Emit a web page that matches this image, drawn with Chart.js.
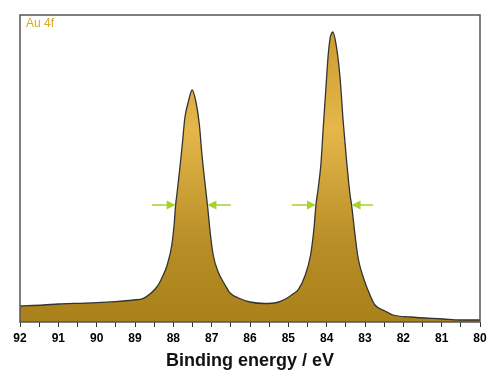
<!DOCTYPE html>
<html>
<head>
<meta charset="utf-8">
<script src="https://cdn.jsdelivr.net/npm/chart.js@4.4.0/dist/chart.umd.min.js"></script>
<style>
    html, body { margin: 0; padding: 0; background: #fff; }
</style>
</head>
<body>
<canvas id="xpsChart" width="500" height="376"></canvas>
<script>
// Au 4f XPS spectrum (arbitrary intensity units)
const energies = [92.0, 91.39, 91.0, 90.52, 90.0, 89.52, 89.04, 88.78, 88.43, 88.35,
    88.30, 88.16, 88.04, 87.98, 87.94, 87.90, 87.83, 87.76, 87.70, 87.61,
    87.51, 87.41, 87.32, 87.26, 87.19, 87.11, 87.04, 86.96, 86.83, 86.65,
    86.52, 86.30, 86.0, 85.61, 85.30, 85.10, 84.96, 84.91, 84.74, 84.57,
    84.42, 84.33, 84.28, 84.22, 84.15, 84.09, 84.02, 83.96, 83.91, 83.89,
    83.84, 83.74, 83.65, 83.57, 83.48, 83.39, 83.35, 83.26, 83.18, 83.04,
    82.87, 82.74, 82.48, 82.27, 81.83, 80.96, 80.52, 80.0];
const intensities = [16, 17, 18, 18.7, 19.3, 20.3, 22, 23.7, 35, 40,
    44, 57, 77, 97, 117, 130, 154, 180, 204, 220,
    232, 220, 197, 170, 144, 117, 90, 67, 50, 37,
    29, 24, 20, 18.5, 19.5, 22.5, 25.7, 27.3, 32.3, 45.7,
    67, 94, 117, 134, 158, 194, 234, 267, 284, 287,
    290, 274, 244, 201, 161, 127, 117, 87, 64, 44,
    27, 17, 11, 7, 5, 3, 2, 2];

// x axis ticks every 0.5 eV, labels only on whole numbers
const tickLabels = [92, 91, 90, 89, 88, 87, 86, 85, 84, 83, 82, 81, 80];

// FWHM arrows (start energy -> tip energy) at half height
const arrowLevel = 117;
const arrowFrom = [88.56, 86.50, 84.91, 82.79];
const arrowTo = [87.94, 87.11, 84.28, 83.35];

const panelLabel = 'Au 4f';

// Draws the FWHM arrows, the frame and the panel label
const xpsDecor = {
    id: 'xpsDecor',
    afterDatasetsDraw(chart) {
        const { ctx, chartArea: a, scales: { x, y } } = chart;
        ctx.save();

        ctx.strokeStyle = '#a6d12e';
        ctx.fillStyle = '#a6d12e';
        ctx.lineWidth = 1.5;
        const yy = y.getPixelForValue(arrowLevel);
        arrowFrom.forEach((e0, i) => {
            const x0 = x.getPixelForValue(e0);
            const x1 = x.getPixelForValue(arrowTo[i]);
            const dir = Math.sign(x1 - x0);
            ctx.beginPath();
            ctx.moveTo(x0, yy);
            ctx.lineTo(x1 - dir * 6, yy);
            ctx.stroke();
            ctx.beginPath();
            ctx.moveTo(x1, yy);
            ctx.lineTo(x1 - dir * 9, yy - 4.5);
            ctx.lineTo(x1 - dir * 9, yy + 4.5);
            ctx.closePath();
            ctx.fill();
        });

        ctx.strokeStyle = '#555';
        ctx.lineWidth = 1.5;
        ctx.strokeRect(a.left, a.top, a.right - a.left, a.bottom - a.top);

        ctx.fillStyle = '#d8a81c';
        ctx.font = '12px "Liberation Sans", Arial, sans-serif';
        ctx.textBaseline = 'top';
        ctx.fillText(panelLabel, a.left + 6, a.top + 3);
        ctx.restore();
    }
};

new Chart(document.getElementById('xpsChart'), {
    type: 'line',
    data: {
        datasets: [{
            label: 'Au 4f',
            data: energies.map((e, i) => ({ x: e, y: intensities[i] })),
            borderColor: '#333333',
            borderWidth: 1.3,
            pointRadius: 0,
            cubicInterpolationMode: 'monotone',
            fill: 'origin',
            backgroundColor: function(context) {
                const chart = context.chart;
                const a = chart.chartArea;
                if (!a) return '#c89a30';
                const g = chart.ctx.createLinearGradient(0, a.top, 0, a.bottom);
                g.addColorStop(0, '#c7972c');
                g.addColorStop(0.37, '#e5b74b');
                g.addColorStop(0.75, '#b88d26');
                g.addColorStop(1, '#a98019');
                return g;
            }
        }]
    },
    options: {
        responsive: false,
        animation: false,
        layout: { padding: { left: 20, right: 20, top: 15, bottom: 0 } },
        plugins: {
            legend: { display: false },
            tooltip: { enabled: false }
        },
        scales: {
            x: {
                type: 'linear',
                min: 80,
                max: 92,
                reverse: true,
                afterFit: function(scale) { scale.height = 54; },
                border: { display: false },
                grid: {
                    display: true,
                    drawOnChartArea: false,
                    drawTicks: true,
                    tickLength: 5,
                    color: '#333'
                },
                ticks: {
                    stepSize: 0.5,
                    autoSkip: false,
                    maxRotation: 0,
                    padding: 4,
                    color: '#000',
                    font: { family: '"Liberation Sans", Arial, sans-serif', size: 12, weight: 'bold' },
                    callback: function(value) {
                        return tickLabels.includes(value) ? String(value) : '';
                    }
                },
                title: {
                    display: true,
                    text: 'Binding energy / eV',
                    color: '#111',
                    font: { family: '"Liberation Sans", Arial, sans-serif', size: 18, weight: 'bold' },
                    padding: { top: 2, bottom: 4 }
                }
            },
            y: {
                display: false,
                min: 0,
                max: 307
            }
        }
    },
    plugins: [xpsDecor]
});
</script>
</body>
</html>
